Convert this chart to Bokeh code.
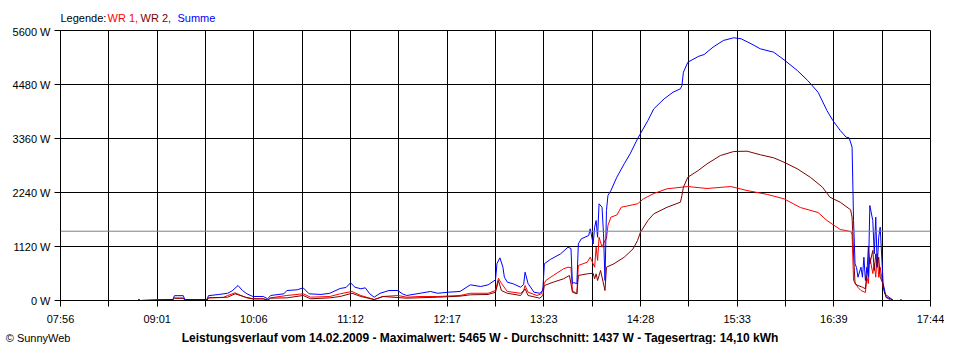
from bokeh.plotting import figure
from bokeh.models import FixedTicker, Span
from bokeh.layouts import column
from bokeh.core.properties import value
from bokeh.embed import file_html
from bokeh.resources import INLINE

# ---- data ----
wr1_t = ["08:48", "08:49", "08:50",
         "09:07", "09:12", "09:13", "09:19", "09:20", "09:35", "09:36", "09:46", "09:49", "09:54", "09:58",
         "10:02", "10:06", "10:13", "10:16", "10:18", "10:29", "10:40", "10:45", "10:58", "11:05", "11:13",
         "11:19", "11:28", "11:34", "11:44", "11:50", "11:59", "12:11", "12:26", "12:33", "12:45", "12:50",
         "12:52", "12:54", "12:58", "13:07", "13:09", "13:10", "13:12", "13:18", "13:21", "13:23", "13:24",
         "13:29", "13:36", "13:39", "13:41", "13:42", "13:45", "13:46", "13:52", "13:54", "13:57", "13:58",
         "13:59", "14:00", "14:02", "14:04", "14:05", "14:06", "14:08", "14:12", "14:15", "14:26", "14:30",
         "14:37", "14:46", "15:00", "15:13", "15:29", "15:40", "15:54", "16:05", "16:16", "16:28", "16:34",
         "16:43", "16:50", "16:51", "16:52", "16:55", "16:57", "17:00", "17:01", "17:02", "17:03", "17:05",
         "17:06", "17:07", "17:08", "17:09", "17:10", "17:12", "17:14", "17:17", "17:19"]
wr1_w = [0, 0, 0,
         20, 20, 48, 48, 10, 10, 55, 62, 104, 159, 104,
         55, 35, 35, 10, 55, 104, 139, 69, 83, 139, 187,
         104, 20, 83, 104, 69, 83, 83, 104, 150, 150, 207,
         463, 353, 187, 150, 207, 311, 172, 104, 139, 353, 415,
         519, 657, 691, 684, 207, 139, 726, 794, 898, 691, 1106,
         830, 1313, 1106, 1244, 1286, 1556, 1728, 1773, 1935, 2006, 2109,
         2219, 2317, 2364, 2323, 2364, 2281, 2198, 2109, 1929, 1825, 1659,
         1473, 1431, 1369, 415, 270, 207, 166, 483, 353, 892, 560,
         767, 483, 968, 483, 691, 276, 62, 10, 0]

wr2_t = ["09:07", "09:12", "09:13", "09:19", "09:20", "09:35", "09:36", "09:49", "09:54", "10:01",
         "10:06", "10:13", "10:16", "10:18", "10:29", "10:40", "10:45", "10:58", "11:05", "11:13",
         "11:19", "11:28", "11:34", "11:50", "12:11", "12:26", "12:33", "12:45", "12:50", "12:52",
         "12:54", "12:58", "13:07", "13:10", "13:12", "13:20", "13:22", "13:23", "13:29", "13:36",
         "13:40", "13:42", "13:45", "13:46", "13:52", "13:56", "13:57", "13:58", "13:59", "14:01",
         "14:04", "14:05", "14:10", "14:17", "14:23", "14:26", "14:28", "14:33", "14:37", "14:46",
         "14:55", "14:56", "14:57", "15:00", "15:07", "15:13", "15:22", "15:31", "15:40", "15:49",
         "15:58", "16:05", "16:14", "16:23", "16:31", "16:36", "16:43", "16:50", "16:51", "16:52",
         "16:53", "16:55", "16:58", "17:00", "17:01", "17:02", "17:03", "17:05", "17:06", "17:07",
         "17:08", "17:09", "17:10", "17:12", "17:13", "17:16", "17:19"]
wr2_w = [20, 20, 48, 48, 10, 10, 55, 69, 139, 69,
         35, 35, 10, 48, 55, 104, 35, 55, 83, 150,
         83, 20, 83, 48, 69, 90, 118, 125, 172, 415,
         207, 150, 104, 243, 104, 48, 104, 311, 380, 450,
         519, 172, 139, 519, 553, 566, 450, 553, 415, 622,
         207, 691, 761, 898, 1072, 1244, 1417, 1659, 1798, 1935,
         2039, 2178, 2350, 2557, 2696, 2835, 3007, 3090, 3097, 3022,
         2960, 2868, 2731, 2551, 2350, 2143, 2039, 1881, 1728, 968,
         346, 311, 276, 243, 553, 1106, 761, 1037, 622, 968,
         691, 898, 483, 346, 139, 69, 0]

sum_t = ["08:48", "08:49", "08:50",
         "09:07", "09:12", "09:13", "09:19", "09:20", "09:35", "09:36", "09:43", "09:49", "09:52", "09:56",
         "09:59", "10:02", "10:06", "10:13", "10:16", "10:18", "10:27", "10:29", "10:36", "10:40", "10:44",
         "10:52", "10:58", "11:05", "11:09", "11:12", "11:15", "11:19", "11:22", "11:25", "11:28", "11:32",
         "11:38", "11:44", "11:47", "11:50", "11:59", "12:06", "12:11", "12:18", "12:26", "12:33", "12:40",
         "12:45", "12:50", "12:51", "12:53", "12:55", "12:56", "12:58", "13:02", "13:07", "13:09", "13:10",
         "13:12", "13:16", "13:20", "13:22", "13:23", "13:27", "13:34", "13:39", "13:41", "13:42", "13:43",
         "13:45", "13:46", "13:48", "13:53", "13:54", "13:56", "13:57", "13:58", "13:59", "14:00", "14:02",
         "14:03", "14:04", "14:05", "14:06", "14:08", "14:12", "14:17", "14:21", "14:26", "14:28", "14:33",
         "14:37", "14:44", "14:50", "14:55", "14:56", "14:57", "15:00", "15:07", "15:11", "15:17", "15:24",
         "15:31", "15:36", "15:42", "15:49", "15:58", "16:05", "16:14", "16:21", "16:28", "16:34", "16:38",
         "16:43", "16:47", "16:49", "16:51", "16:52", "16:53", "16:54", "16:55", "16:57", "16:58", "16:59",
         "17:00", "17:01", "17:02", "17:03", "17:05", "17:06", "17:07", "17:08", "17:09", "17:10", "17:12",
         "17:14", "17:17", "17:19", "17:23", "17:24", "17:25"]
sum_w = [0, 25, 0,
         20, 20, 100, 100, 20, 20, 100, 125, 150, 200, 311,
         207, 139, 83, 83, 35, 104, 139, 207, 222, 263, 139,
         125, 150, 249, 270, 367, 276, 243, 263, 139, 69, 150,
         207, 207, 139, 104, 150, 187, 150, 172, 187, 325, 290,
         325, 429, 767, 885, 691, 483, 380, 346, 276, 332, 587,
         353, 172, 150, 207, 761, 850, 968, 1106, 1078, 346, 373,
         346, 1176, 1280, 1348, 1487, 1176, 1521, 1659, 1313, 2006, 1935,
         1389, 415, 1867, 2178, 2281, 2557, 2835, 3043, 3354, 3464, 3733,
         3976, 4183, 4320, 4391, 4459, 4735, 4942, 5061, 5102, 5254, 5393,
         5449, 5428, 5337, 5220, 5150, 4992, 4770, 4563, 4320, 3941, 3733,
         3526, 3387, 3374, 3180, 1659, 761, 684, 483, 691, 483, 898,
         415, 691, 483, 1970, 1659, 968, 1728, 691, 1313, 1521, 346,
         69, 35, 0, 0, 20, 0]

x_labels = ["07:56", "09:01", "10:06", "11:12", "12:17", "13:23", "14:28", "15:33", "16:39", "17:44"]
y_ticks = [0, 1120, 2240, 3360, 4480, 5600]
average_w = 1437

legend_texts = ["Legende:", "WR 1,", "WR 2,", "Summe"]
legend_colors = ["black", "#ff0000", "#800000", "#0000ff"]
footer = "Leistungsverlauf vom 14.02.2009 - Maximalwert: 5465 W - Durchschnitt: 1437 W - Tagesertrag: 14,10 kWh"
copyright_text = "\u00a9 SunnyWeb"


def secs(s):
    h, m = s.split(":")
    return int(h) * 3600 + int(m) * 60


x_start = secs(x_labels[0])
x_end = secs(x_labels[-1])
n_int = 2 * (len(x_labels) - 1)
step = (x_end - x_start) // n_int
x_ticks = [x_start + i * step for i in range(n_int + 1)]
overrides = {}
for i, t in enumerate(x_ticks):
    overrides[t] = x_labels[i // 2] if i % 2 == 0 else ""

FONT = "Liberation Sans"
W = 944
LEFT, RIGHT = 60, 14          # frame borders (px), shared by all stacked figures
Y_MAX = 5600


def strip(h, y_axis=None):
    f = figure(width=W, height=h, x_range=(LEFT, W - RIGHT), y_range=(0, h), output_backend="svg",
               toolbar_location=None, x_axis_location=None, y_axis_location=y_axis,
               min_border_left=LEFT, min_border_right=RIGHT, min_border_top=0, min_border_bottom=0)
    f.grid.visible = False
    f.outline_line_color = None
    f.background_fill_color = "white"
    f.border_fill_color = "white"
    return f


# legend strip on top (x in canvas pixels of the aligned frame)
top = strip(25)
top.text(x=[60, 107, 140, 177], y=[8, 8, 8, 8], text=legend_texts, text_color=legend_colors,
         text_font=value(FONT), text_font_size=value("11px"), text_baseline="middle", text_align="left")

# main chart
p = figure(width=W, height=303, output_backend="svg", toolbar_location=None,
           x_range=(x_start, x_end), y_range=(0, Y_MAX),
           min_border_left=LEFT, min_border_right=RIGHT, min_border_top=5, min_border_bottom=28)
p.outline_line_color = "black"
p.background_fill_color = "white"
p.border_fill_color = "white"

p.xaxis.ticker = FixedTicker(ticks=x_ticks)
p.xaxis.major_label_overrides = overrides
p.yaxis.ticker = FixedTicker(ticks=y_ticks)
p.yaxis.major_label_overrides = {v: f"{v} W" for v in y_ticks}
for ax in (p.xaxis[0], p.yaxis[0]):
    ax.axis_line_color = "black"
    ax.major_tick_line_color = "black"
    ax.major_tick_out = 6
    ax.major_tick_in = 0
    ax.minor_tick_line_color = None
    ax.major_label_text_font = FONT
    ax.major_label_text_font_size = "11px"
    ax.major_label_text_color = "black"
p.yaxis.major_label_standoff = 4
p.xaxis.major_label_standoff = 6

p.xgrid.ticker = FixedTicker(ticks=x_ticks)
p.ygrid.ticker = FixedTicker(ticks=y_ticks)
for g in (p.xgrid[0], p.ygrid[0]):
    g.grid_line_color = "black"
    g.grid_line_alpha = 1.0
    g.grid_line_width = 1

p.add_layout(Span(location=average_w, dimension="width", line_color="#808080", line_width=1))

p.line([secs(t) for t in wr1_t], wr1_w, line_color="#ff0000", line_width=1)
p.line([secs(t) for t in wr2_t], wr2_w, line_color="#800000", line_width=1)
p.line([secs(t) for t in sum_t], sum_w, line_color="#0000ff", line_width=1)

# footer strip: bold summary line in the frame, copyright as the strip's left label
bottom = strip(16, y_axis="left")
bottom.text(x=[479.5], y=[7], text=[footer], text_color="black", text_font=value(FONT),
            text_font_size=value("12px"), text_font_style="bold", text_baseline="middle", text_align="center")
ya = bottom.yaxis[0]
ya.ticker = FixedTicker(ticks=[7])
ya.major_label_overrides = {7: copyright_text}
ya.axis_line_color = None
ya.major_tick_line_color = None
ya.minor_tick_line_color = None
ya.major_tick_out = 0
ya.major_tick_in = 0
ya.major_label_standoff = -10
ya.major_label_text_font = FONT
ya.major_label_text_font_size = "11px"
ya.major_label_text_color = "black"

layout = column(top, p, bottom, spacing=0)
open("out.html", "w").write(file_html(layout, INLINE))
